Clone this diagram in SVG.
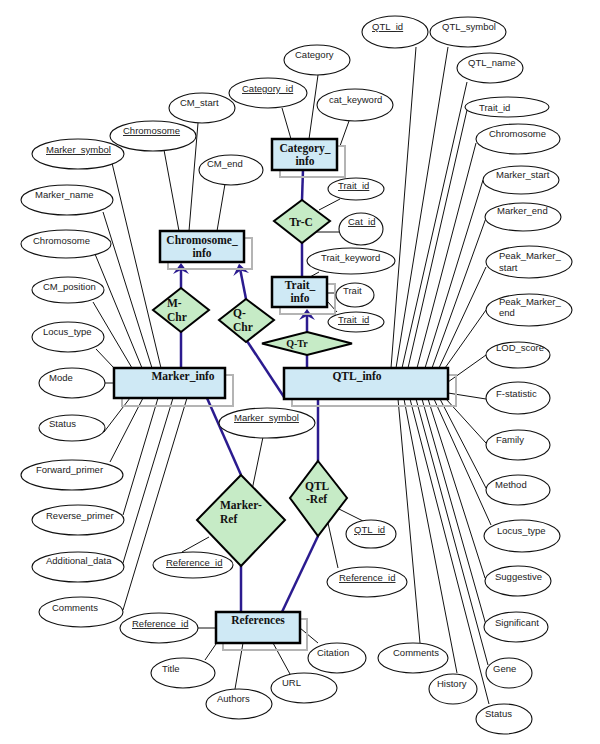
<svg xmlns="http://www.w3.org/2000/svg" width="600" height="744" viewBox="0 0 600 744">
<style>
.bg{fill:#ffffff}
.ln{stroke:#111;stroke-width:1;fill:none}
.rl{stroke:#2b1b8f;stroke-width:2.5;fill:none}
.att{fill:#fff;stroke:#111;stroke-width:1.1}
.ent{fill:#cfe9f5;stroke:#000;stroke-width:2.5}
.sh{fill:none;stroke:#b4b4b4;stroke-width:2}
.rel{fill:#c6ebc6;stroke:#000;stroke-width:2}
.t{font-family:"Liberation Sans",Arial,sans-serif;font-size:9.5px;fill:#222}
.u{text-decoration:underline}
.b{font-family:"Liberation Serif","Times New Roman",serif;font-size:11.5px;font-weight:bold;fill:#111}
</style>
<defs>
<marker id="arr" viewBox="-5 -9 14 18" markerWidth="14" markerHeight="18" refX="0" refY="0" orient="auto" markerUnits="userSpaceOnUse">
<path d="M7,0 L-4,-8 L0,0 L-4,8 Z" fill="#2b1b8f"/>
</marker>
</defs>
<rect class="bg" x="0" y="0" width="600" height="744"/>
<g id="connectors">
<line class="ln" x1="112" y1="163" x2="161" y2="368"/>
<line class="ln" x1="103" y1="212" x2="152" y2="368"/>
<line class="ln" x1="95" y1="254" x2="142" y2="368"/>
<line class="ln" x1="93" y1="302" x2="132" y2="368"/>
<line class="ln" x1="96" y1="349" x2="114" y2="368"/>
<line class="ln" x1="105" y1="383" x2="114" y2="383"/>
<line class="ln" x1="104" y1="432" x2="130" y2="398"/>
<line class="ln" x1="110" y1="462" x2="143" y2="398"/>
<line class="ln" x1="123" y1="515" x2="158" y2="398"/>
<line class="ln" x1="123" y1="563" x2="173" y2="398"/>
<line class="ln" x1="123" y1="610" x2="187" y2="398"/>
<line class="ln" x1="164" y1="150" x2="179" y2="231"/>
<line class="ln" x1="198" y1="123" x2="189" y2="231"/>
<line class="ln" x1="225" y1="184" x2="217" y2="231"/>
<line class="ln" x1="282" y1="108" x2="291" y2="139"/>
<line class="ln" x1="318" y1="75" x2="309" y2="139"/>
<line class="ln" x1="349" y1="121" x2="340" y2="146"/>
<line class="ln" x1="340" y1="199" x2="319" y2="210"/>
<line class="ln" x1="339" y1="232" x2="316" y2="232"/>
<line class="ln" x1="319" y1="272" x2="310" y2="277"/>
<line class="ln" x1="337" y1="293" x2="327" y2="293"/>
<line class="ln" x1="337" y1="312" x2="327" y2="301"/>
<line class="ln" x1="416" y1="47" x2="391" y2="368"/>
<line class="ln" x1="448" y1="47" x2="396" y2="368"/>
<line class="ln" x1="467" y1="82" x2="402" y2="368"/>
<line class="ln" x1="467" y1="110" x2="408" y2="368"/>
<line class="ln" x1="476" y1="143" x2="417" y2="368"/>
<line class="ln" x1="483" y1="180" x2="425" y2="368"/>
<line class="ln" x1="486" y1="218" x2="432" y2="368"/>
<line class="ln" x1="486" y1="267" x2="439" y2="368"/>
<line class="ln" x1="486" y1="310" x2="445" y2="368"/>
<line class="ln" x1="486" y1="355" x2="448" y2="382"/>
<line class="ln" x1="486" y1="399" x2="448" y2="393"/>
<line class="ln" x1="486" y1="443" x2="446" y2="399"/>
<line class="ln" x1="486" y1="488" x2="440" y2="399"/>
<line class="ln" x1="491" y1="525" x2="434" y2="399"/>
<line class="ln" x1="485" y1="578" x2="428" y2="399"/>
<line class="ln" x1="486" y1="625" x2="422" y2="399"/>
<line class="ln" x1="488" y1="665" x2="416" y2="399"/>
<line class="ln" x1="489" y1="704" x2="410" y2="399"/>
<line class="ln" x1="457" y1="673" x2="404" y2="399"/>
<line class="ln" x1="420" y1="643" x2="398" y2="399"/>
<line class="ln" x1="263" y1="437" x2="252" y2="490"/>
<line class="ln" x1="209" y1="537" x2="182" y2="552"/>
<line class="ln" x1="339" y1="509" x2="365" y2="522"/>
<line class="ln" x1="328" y1="523" x2="338" y2="568"/>
<line class="ln" x1="198" y1="628" x2="216" y2="628"/>
<line class="ln" x1="205" y1="660" x2="216" y2="644"/>
<line class="ln" x1="235" y1="689" x2="243" y2="643"/>
<line class="ln" x1="290" y1="674" x2="273" y2="643"/>
<line class="ln" x1="318" y1="643" x2="300" y2="628"/>
<line class="rl" x1="303" y1="170" x2="302" y2="200"/>
<line class="rl" x1="302" y1="243" x2="302" y2="277"/>
<line class="rl" x1="181" y1="288" x2="181" y2="270" marker-end="url(#arr)"/>
<line class="rl" x1="246" y1="299" x2="240.4" y2="270.5" marker-end="url(#arr)"/>
<line class="rl" x1="247" y1="341" x2="284" y2="397"/>
<line class="rl" x1="307" y1="332" x2="307" y2="316" marker-end="url(#arr)"/>
<line class="rl" x1="307" y1="355" x2="307" y2="368"/>
<line class="rl" x1="181" y1="332" x2="181" y2="368"/>
<line class="rl" x1="207" y1="398" x2="241" y2="475"/>
<line class="rl" x1="318" y1="399" x2="318" y2="461"/>
<line class="rl" x1="241" y1="566" x2="241" y2="612"/>
<line class="rl" x1="318" y1="536" x2="282" y2="612"/>
</g>
<g id="Chromosome_info"><rect class="sh" x="168" y="238" width="84" height="31"/><rect class="ent" x="160" y="231" width="84" height="31"/><text class="b" x="202" y="244" text-anchor="middle">Chromosome_</text><text class="b" x="202" y="257" text-anchor="middle">info</text></g>
<g id="Category_info"><rect class="sh" x="280" y="146" width="65" height="31"/><rect class="ent" x="272" y="139" width="65" height="31"/><text class="b" x="305" y="152" text-anchor="middle">Category_</text><text class="b" x="305" y="165" text-anchor="middle">info</text></g>
<g id="Trait_info"><rect class="sh" x="280" y="284" width="55" height="30"/><rect class="ent" x="272" y="277" width="55" height="30"/><text class="b" x="300" y="289" text-anchor="middle">Trait_</text><text class="b" x="300" y="302" text-anchor="middle">info</text></g>
<g id="Marker_info"><rect class="sh" x="122" y="375" width="111" height="31"/><rect class="ent" x="114" y="368" width="111" height="30"/><text class="b" x="183" y="380" text-anchor="middle">Marker_info</text></g>
<g id="QTL_info"><rect class="sh" x="292" y="375" width="164" height="31"/><rect class="ent" x="284" y="368" width="164" height="31"/><text class="b" x="357" y="380" text-anchor="middle">QTL_info</text></g>
<g id="References"><rect class="sh" x="223" y="619" width="84" height="31"/><rect class="ent" x="216" y="612" width="84" height="31"/><text class="b" x="258" y="624" text-anchor="middle">References</text></g>
<g id="M-Chr"><polygon class="rel" points="181,288 209,310 181,332 153,310"/><text class="b" x="167" y="307">M-</text><text class="b" x="167" y="321">Chr</text></g>
<g id="Q-Chr"><polygon class="rel" points="246,299 274,320 246,342 219,320"/><text class="b" x="233" y="317">Q-</text><text class="b" x="233" y="331">Chr</text></g>
<g id="Tr-C"><polygon class="rel" points="302,200 330,221 302,243 274,221"/><text class="b" x="301" y="226" text-anchor="middle">Tr-C</text></g>
<g id="Q-Tr"><polygon class="rel" points="307,332 352,343.5 307,355 262,343.5"/><text class="b" x="297" y="347" text-anchor="middle" style="font-size:10px">Q-Tr</text></g>
<g id="Marker-Ref"><polygon class="rel" points="241,475 285,520 241,566 197,520"/><text class="b" x="220" y="509">Marker-</text><text class="b" x="220" y="523">Ref</text></g>
<g id="QTL-Ref"><polygon class="rel" points="318,461 347,498 318,536 290,498"/><text class="b" x="305" y="490">QTL</text><text class="b" x="306" y="503">-Ref</text></g>
<g id="a_marker_symbol"><ellipse class="att" cx="78" cy="154" rx="46" ry="15"/><text class="t u" x="46" y="153">Marker_symbol</text></g>
<g id="a_marker_name"><ellipse class="att" cx="67" cy="200" rx="46" ry="15"/><text class="t" x="35" y="198">Marker_name</text></g>
<g id="a_m_chromosome"><ellipse class="att" cx="66" cy="244" rx="45" ry="14"/><text class="t" x="33" y="244">Chromosome</text></g>
<g id="a_cm_position"><ellipse class="att" cx="68" cy="290" rx="36" ry="13"/><text class="t" x="43" y="290">CM_position</text></g>
<g id="a_m_locus_type"><ellipse class="att" cx="68" cy="337" rx="36" ry="15"/><text class="t" x="43" y="335">Locus_type</text></g>
<g id="a_mode"><ellipse class="att" cx="72" cy="383" rx="33" ry="15"/><text class="t" x="49" y="381">Mode</text></g>
<g id="a_m_status"><ellipse class="att" cx="72" cy="428" rx="33" ry="13"/><text class="t" x="49" y="427">Status</text></g>
<g id="a_forward_primer"><ellipse class="att" cx="72" cy="475" rx="51" ry="15"/><text class="t" x="36" y="473">Forward_primer</text></g>
<g id="a_reverse_primer"><ellipse class="att" cx="78" cy="520" rx="46" ry="15"/><text class="t" x="46" y="519">Reverse_primer</text></g>
<g id="a_additional_data"><ellipse class="att" cx="78" cy="567" rx="46" ry="15"/><text class="t" x="46" y="564">Additional_data</text></g>
<g id="a_m_comments"><ellipse class="att" cx="81" cy="612" rx="42" ry="15"/><text class="t" x="52" y="611">Comments</text></g>
<g id="a_c_chromosome"><ellipse class="att" cx="153" cy="136" rx="43" ry="15"/><text class="t u" x="123" y="134">Chromosome</text></g>
<g id="a_cm_start"><ellipse class="att" cx="202" cy="108" rx="33" ry="15"/><text class="t" x="180" y="106">CM_start</text></g>
<g id="a_cm_end"><ellipse class="att" cx="231" cy="170" rx="32" ry="15"/><text class="t" x="207" y="167">CM_end</text></g>
<g id="a_category"><ellipse class="att" cx="317" cy="60" rx="33" ry="15"/><text class="t" x="295" y="58">Category</text></g>
<g id="a_category_id"><ellipse class="att" cx="268" cy="93" rx="39" ry="15"/><text class="t u" x="242" y="92">Category_id</text></g>
<g id="a_cat_keyword"><ellipse class="att" cx="355" cy="105" rx="38" ry="16"/><text class="t" x="329" y="103">cat_keyword</text></g>
<g id="a_trc_trait_id"><ellipse class="att" cx="356" cy="189" rx="28" ry="11"/><text class="t u" x="338" y="189">Trait_id</text></g>
<g id="a_cat_id"><ellipse class="att" cx="361" cy="229" rx="22" ry="16"/><text class="t u" x="348" y="225">Cat_id</text></g>
<g id="a_trait_keyword"><ellipse class="att" cx="351" cy="261" rx="44" ry="13"/><text class="t" x="321" y="261">Trait_keyword</text></g>
<g id="a_trait"><ellipse class="att" cx="355" cy="295" rx="19" ry="12"/><text class="t" x="343" y="294">Trait</text></g>
<g id="a_t_trait_id"><ellipse class="att" cx="356" cy="322" rx="28" ry="10"/><text class="t u" x="338" y="323">Trait_id</text></g>
<g id="a_mr_marker_symbol"><ellipse class="att" cx="267" cy="423" rx="48" ry="15"/><text class="t u" x="234" y="421">Marker_symbol</text></g>
<g id="a_mr_reference_id"><ellipse class="att" cx="193" cy="565" rx="40" ry="13"/><text class="t u" x="166" y="566">Reference_id</text></g>
<g id="a_qr_qtl_id"><ellipse class="att" cx="371" cy="534" rx="25" ry="14"/><text class="t u" x="354" y="533">QTL_id</text></g>
<g id="a_qr_reference_id"><ellipse class="att" cx="367" cy="582" rx="40" ry="15"/><text class="t u" x="339" y="581">Reference_id</text></g>
<g id="a_r_reference_id"><ellipse class="att" cx="159" cy="628" rx="39" ry="15"/><text class="t u" x="132" y="627">Reference_id</text></g>
<g id="a_title"><ellipse class="att" cx="183" cy="673" rx="32" ry="15"/><text class="t" x="162" y="672">Title</text></g>
<g id="a_authors"><ellipse class="att" cx="239" cy="704" rx="33" ry="15"/><text class="t" x="217" y="702">Authors</text></g>
<g id="a_url"><ellipse class="att" cx="304" cy="688" rx="33" ry="15"/><text class="t" x="282" y="686">URL</text></g>
<g id="a_citation"><ellipse class="att" cx="337" cy="658" rx="29" ry="15"/><text class="t" x="317" y="656">Citation</text></g>
<g id="a_q_comments"><ellipse class="att" cx="413" cy="658" rx="35" ry="15"/><text class="t" x="393" y="656">Comments</text></g>
<g id="a_history"><ellipse class="att" cx="453" cy="689" rx="24" ry="15"/><text class="t" x="437" y="687">History</text></g>
<g id="a_q_status"><ellipse class="att" cx="504" cy="719" rx="28" ry="15"/><text class="t" x="485" y="717">Status</text></g>
<g id="a_gene"><ellipse class="att" cx="509" cy="673" rx="23" ry="15"/><text class="t" x="493" y="672">Gene</text></g>
<g id="a_significant"><ellipse class="att" cx="516" cy="627" rx="32" ry="15"/><text class="t" x="495" y="626">Significant</text></g>
<g id="a_suggestive"><ellipse class="att" cx="518" cy="581" rx="33" ry="15"/><text class="t" x="495" y="580">Suggestive</text></g>
<g id="a_q_locus_type"><ellipse class="att" cx="522" cy="536" rx="38" ry="16"/><text class="t" x="497" y="534">Locus_type</text></g>
<g id="a_method"><ellipse class="att" cx="518" cy="490" rx="32" ry="15"/><text class="t" x="495" y="488">Method</text></g>
<g id="a_family"><ellipse class="att" cx="518" cy="445" rx="32" ry="15"/><text class="t" x="496" y="443">Family</text></g>
<g id="a_f_statistic"><ellipse class="att" cx="518" cy="398" rx="32" ry="16"/><text class="t" x="496" y="397">F-statistic</text></g>
<g id="a_lod_score"><ellipse class="att" cx="518" cy="355" rx="32" ry="13"/><text class="t" x="496" y="351">LOD_score</text></g>
<g id="a_peak_marker_end"><ellipse class="att" cx="529" cy="310" rx="43" ry="16"/><text class="t" x="499" y="305">Peak_Marker_</text><text class="t" x="499" y="316">end</text></g>
<g id="a_peak_marker_start"><ellipse class="att" cx="529" cy="262" rx="43" ry="16"/><text class="t" x="499" y="259">Peak_Marker_</text><text class="t" x="499" y="271">start</text></g>
<g id="a_marker_end"><ellipse class="att" cx="523" cy="217" rx="38" ry="14"/><text class="t" x="497" y="214">Marker_end</text></g>
<g id="a_marker_start"><ellipse class="att" cx="521" cy="180" rx="38" ry="14"/><text class="t" x="496" y="178">Marker_start</text></g>
<g id="a_q_chromosome"><ellipse class="att" cx="518" cy="139" rx="42" ry="15"/><text class="t" x="489" y="137">Chromosome</text></g>
<g id="a_q_trait_id"><ellipse class="att" cx="507" cy="107" rx="42" ry="10"/><text class="t" x="479" y="111">Trait_id</text></g>
<g id="a_qtl_name"><ellipse class="att" cx="490" cy="68" rx="33" ry="15"/><text class="t" x="468" y="66">QTL_name</text></g>
<g id="a_qtl_symbol"><ellipse class="att" cx="468" cy="32" rx="38" ry="15"/><text class="t" x="442" y="30">QTL_symbol</text></g>
<g id="a_qtl_id"><ellipse class="att" cx="395" cy="32" rx="33" ry="16"/><text class="t u" x="372" y="30">QTL_id</text></g>
</svg>
